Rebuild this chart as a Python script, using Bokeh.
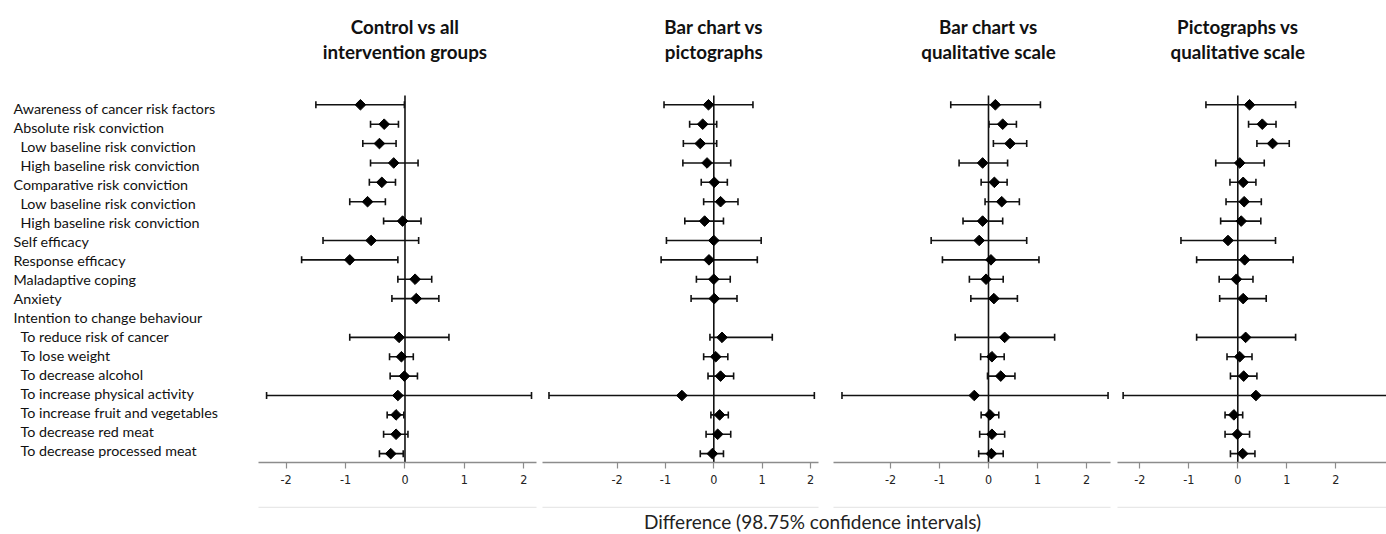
import math
from bokeh.plotting import figure
from bokeh.models import (ColumnDataSource, Range1d, LinearAxis, FixedTicker,
                          Whisker, TeeHead, Label)
from bokeh.layouts import row, column
from bokeh.embed import file_html
from bokeh.resources import INLINE
from bokeh.core.properties import value

NaN = float("nan")

# ---------------- data ----------------
outcomes = [
    "Awareness of cancer risk factors",
    "Absolute risk conviction",
    "Low baseline risk conviction",
    "High baseline risk conviction",
    "Comparative risk conviction",
    "Low baseline risk conviction",
    "High baseline risk conviction",
    "Self efficacy",
    "Response efficacy",
    "Maladaptive coping",
    "Anxiety",
    "Intention to change behaviour",
    "To reduce risk of cancer",
    "To lose weight",
    "To decrease alcohol",
    "To increase physical activity",
    "To increase fruit and vegetables",
    "To decrease red meat",
    "To decrease processed meat",
]
outcome_level = [0, 0, 1, 1, 0, 1, 1, 0, 0, 0, 0, 0, 1, 1, 1, 1, 1, 1, 1]

panel_titles = [
    ("Control vs all", "intervention groups"),
    ("Bar chart vs", "pictographs"),
    ("Bar chart vs", "qualitative scale"),
    ("Pictographs vs", "qualitative scale"),
]

est_control = [-0.75, -0.35, -0.43, -0.19, -0.39, -0.63, -0.04, -0.57, -0.93, 0.17, 0.19, NaN,
               -0.10, -0.06, -0.01, -0.12, -0.15, -0.15, -0.24]
lo_control = [-1.50, -0.58, -0.71, -0.58, -0.60, -0.93, -0.36, -1.38, -1.74, -0.12, -0.22, NaN,
              -0.93, -0.26, -0.25, -2.33, -0.30, -0.36, -0.43]
hi_control = [-0.01, -0.11, -0.15, 0.22, -0.16, -0.33, 0.27, 0.23, -0.12, 0.45, 0.57, NaN,
              0.74, 0.14, 0.21, 2.13, -0.02, 0.05, -0.03]

est_bar_pict = [-0.11, -0.23, -0.28, -0.14, 0.01, 0.14, -0.19, 0.00, -0.10, 0.00, 0.01, NaN,
                0.17, 0.04, 0.14, -0.66, 0.12, 0.08, -0.03]
lo_bar_pict = [-1.03, -0.50, -0.63, -0.64, -0.26, -0.21, -0.60, -0.98, -1.09, -0.36, -0.47, NaN,
               -0.08, -0.21, -0.12, -3.41, -0.06, -0.16, -0.28]
hi_bar_pict = [0.81, 0.06, 0.06, 0.35, 0.28, 0.50, 0.20, 0.98, 0.90, 0.34, 0.48, NaN,
               1.21, 0.29, 0.41, 2.08, 0.30, 0.35, 0.20]

est_bar_qual = [0.14, 0.29, 0.44, -0.12, 0.12, 0.27, -0.12, -0.19, 0.05, -0.05, 0.11, NaN,
                0.33, 0.07, 0.25, -0.29, 0.03, 0.07, 0.06]
lo_bar_qual = [-0.77, 0.01, 0.10, -0.60, -0.15, -0.07, -0.52, -1.17, -0.94, -0.39, -0.36, NaN,
               -0.68, -0.16, -0.02, -2.99, -0.15, -0.18, -0.20]
hi_bar_qual = [1.06, 0.57, 0.78, 0.39, 0.38, 0.63, 0.29, 0.78, 1.03, 0.30, 0.59, NaN,
               1.35, 0.32, 0.54, 2.44, 0.21, 0.33, 0.30]

est_pict_qual = [0.24, 0.50, 0.71, 0.04, 0.11, 0.13, 0.07, -0.20, 0.14, -0.03, 0.11, NaN,
                 0.16, 0.04, 0.12, 0.37, -0.08, -0.01, 0.10]
lo_pict_qual = [-0.65, 0.22, 0.39, -0.45, -0.16, -0.24, -0.35, -1.16, -0.84, -0.38, -0.37, NaN,
                -0.84, -0.22, -0.15, -2.34, -0.26, -0.26, -0.15]
hi_pict_qual = [1.18, 0.78, 1.05, 0.54, 0.37, 0.48, 0.47, 0.77, 1.13, 0.31, 0.58, NaN,
                1.18, 0.29, 0.39, 3.20, 0.10, 0.24, 0.35]

x_ticks = [-2, -1, 0, 1, 2]
x_tick_labels = ["-2", "-1", "0", "1", "2"]
x_axis_title = "Difference (98.75% confidence intervals)"

# ---------------- layout constants ----------------
ROW_H = 508
TOP = 10
BOTTOM = ROW_H - 462
Y_RANGE = (-18.457, 4.866)
LABEL_Y_RANGE = (-18.628, 5.137)
ZERO_TOP = 0.48
TITLE_Y = (4.05, 2.77)
INK = "#111111"
AXIS_GRAY = "#8c8c8c"
TICK_FONT = "'Liberation Sans Narrow', 'DejaVu Sans Condensed', 'Liberation Sans', sans-serif"

panels = [
    (est_control, lo_control, hi_control, (-2.466, 2.214), 281, 0, 3),
    (est_bar_pict, lo_bar_pict, hi_bar_pict, (-3.544, 2.166), 286, 3, 7),
    (est_bar_qual, lo_bar_qual, hi_bar_qual, (-3.163, 2.490), 288, 8, 3),
    (est_pict_qual, lo_pict_qual, hi_pict_qual, (-2.455, 3.035), 273, 4, 0),
]


def base_fig(width, xr, yr, bl, br):
    p = figure(width=width, height=ROW_H, x_range=Range1d(*xr), y_range=Range1d(*yr),
               output_backend="svg", toolbar_location=None,
               x_axis_location=None, y_axis_location=None,
               min_border_left=bl, min_border_right=br,
               min_border_top=TOP, min_border_bottom=BOTTOM)
    p.outline_line_color = None
    p.grid.visible = False
    p.background_fill_color = None
    p.border_fill_color = "white"
    return p


# ---- label column ----
lab = base_fig(258, (0, 1), LABEL_Y_RANGE, 0, 0)
lab_src = ColumnDataSource(dict(
    x=[0] * len(outcomes),
    y=[-i for i in range(len(outcomes))],
    text=outcomes,
    xoff=[13 + 7 * lv for lv in outcome_level],
))
lab.text(x="x", y="y", text="text", x_offset="xoff", source=lab_src,
         text_align="left", text_baseline="middle",
         text_font=value("Lato"), text_font_size=value("14.3px"), text_color=INK)

figs = [lab]
for k, (est, lo, hi, xr, w, bl, br) in enumerate(panels):
    p = base_fig(w, xr, Y_RANGE, bl, br)
    idx = [i for i in range(len(est)) if not math.isnan(est[i])]
    src = ColumnDataSource(dict(
        y=[-i for i in idx],
        est=[est[i] for i in idx],
        lo=[lo[i] for i in idx],
        hi=[hi[i] for i in idx],
    ))
    # zero reference line
    p.segment(x0=0, y0=Y_RANGE[0], x1=0, y1=ZERO_TOP, line_color=INK, line_width=1.6)
    wh = Whisker(base="y", lower="lo", upper="hi", dimension="width", source=src,
                 line_color=INK, line_width=1.6, level="glyph",
                 lower_head=TeeHead(size=7, line_color=INK, line_width=1.6),
                 upper_head=TeeHead(size=7, line_color=INK, line_width=1.6))
    p.add_layout(wh)
    p.scatter(x="est", y="y", source=src, marker="square", angle=math.pi / 4,
              size=7.5, fill_color="black", line_color="black", level="overlay")

    ax = LinearAxis(ticker=FixedTicker(ticks=x_ticks), axis_label="\u00a0",
                    axis_label_text_font_size="14px", axis_label_standoff=2,
                    axis_line_color=AXIS_GRAY, axis_line_width=1.5,
                    major_tick_line_color=AXIS_GRAY, major_tick_line_width=1.2,
                    major_tick_in=0, major_tick_out=6,
                    minor_tick_line_color=None,
                    major_label_standoff=6,
                    major_label_overrides=dict(zip(x_ticks, x_tick_labels)),
                    major_label_text_font=TICK_FONT,
                    major_label_text_font_size="12.5px",
                    major_label_text_color="#222222")
    p.add_layout(ax, "below")
    ax2 = LinearAxis(ticker=FixedTicker(ticks=[]), axis_line_color="#e8e8e8",
                     axis_line_width=1.5, major_tick_line_color=None,
                     minor_tick_line_color=None, major_label_text_font_size="0px")
    p.add_layout(ax2, "below")

    t_src = ColumnDataSource(dict(x=[0, 0], y=list(TITLE_Y), text=list(panel_titles[k])))
    p.text(x="x", y="y", text="text", source=t_src, text_align="center",
           text_baseline="middle", text_font=value("Lato"), text_font_style="bold",
           text_font_size=value("18.8px"), text_color=INK)
    figs.append(p)

bottom = figure(width=1386, height=24, x_range=Range1d(0, 1386), y_range=Range1d(0, 24),
                output_backend="svg", toolbar_location=None,
                x_axis_location=None, y_axis_location=None,
                min_border_left=0, min_border_right=0, min_border_top=0, min_border_bottom=0)
bottom.outline_line_color = None
bottom.grid.visible = False
bottom.add_layout(Label(x=812, y=11, text=x_axis_title, text_align="center",
                        text_baseline="middle", text_font="Lato", text_font_size="19px",
                        text_color="#222222"))

layout = column(row(*figs, spacing=0), bottom, spacing=0)
open("out.html", "w").write(file_html(layout, INLINE))
